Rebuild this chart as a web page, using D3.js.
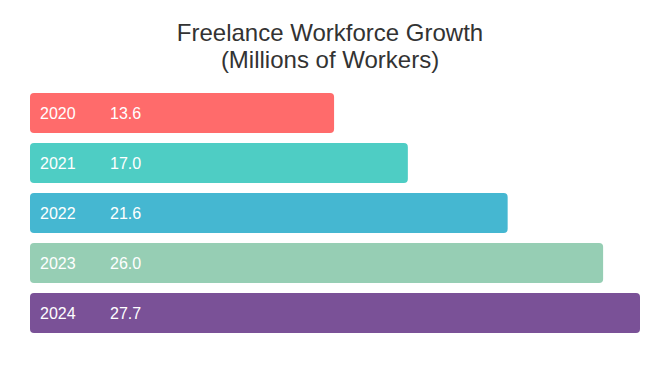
<!DOCTYPE html>
<html>
<head>
<meta charset="utf-8">
<script src="https://cdn.jsdelivr.net/npm/d3@7/dist/d3.min.js"></script>
<style>
  html, body { margin: 0; padding: 0; background: #fff; }
  svg { display: block; font-family: "Liberation Sans", Arial, sans-serif; }
</style>
</head>
<body>
<svg id="chart" width="670" height="392"></svg>
<script>
const years = ["2020", "2021", "2022", "2023", "2024"];
const workers = [13.6, 17.0, 21.6, 26.0, 27.7];
const colors = ["#FF6B6B", "#4ECDC4", "#45B7D1", "#96CEB4", "#7A5197"];
const titleLines = ["Freelance Workforce Growth", "(Millions of Workers)"];

const svg = d3.select("#chart");
const margin = { left: 30, top: 88 };

const x = d3.scaleLinear().domain([0, d3.max(workers)]).range([9, 610]);
const y = d3.scaleBand().domain(years).range([0, 250]).paddingInner(0.2).paddingOuter(0.1);

svg.append("text")
  .attr("x", 330).attr("y", 41)
  .attr("text-anchor", "middle")
  .attr("font-size", 24).attr("fill", "#333")
  .selectAll("tspan").data(titleLines).join("tspan")
  .attr("x", 330).attr("dy", (d, i) => i === 0 ? 0 : 27)
  .text(d => d);

const g = svg.append("g").attr("transform", `translate(${margin.left},${margin.top})`);

const rows = g.selectAll("g.row").data(years).join("g")
  .attr("class", "row")
  .attr("transform", d => `translate(0,${y(d)})`);

rows.append("rect")
  .attr("x", 0).attr("y", 0)
  .attr("width", (d, i) => x(workers[i]))
  .attr("height", y.bandwidth())
  .attr("rx", 4).attr("ry", 4)
  .attr("fill", (d, i) => colors[i]);

rows.append("text")
  .attr("x", 10).attr("y", y.bandwidth() / 2).attr("dy", "0.35em")
  .attr("font-size", 16).attr("fill", "#fff")
  .text(d => d);

rows.append("text")
  .attr("x", 80).attr("y", y.bandwidth() / 2).attr("dy", "0.35em")
  .attr("font-size", 16).attr("fill", "#fff")
  .text((d, i) => workers[i].toFixed(1));
</script>
</body>
</html>
